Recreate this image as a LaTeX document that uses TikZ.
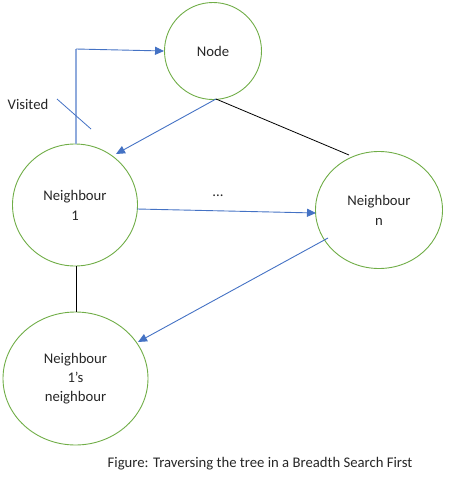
\documentclass[tikz,border=0pt]{standalone}
\usepackage{fontspec}
\setmainfont{Carlito}
\usetikzlibrary{arrows.meta,shapes.geometric}
\definecolor{cgreen}{HTML}{70AD47}
\definecolor{cblue}{HTML}{4472C4}
\definecolor{clblue}{HTML}{8FAADC}
\begin{document}
\begin{tikzpicture}[x=1pt,y=-1pt,
  circ/.style={draw=cgreen,line width=0.9pt,ellipse,inner sep=0pt,align=center,
    font=\fontsize{14.7}{20}\selectfont,text=black!85},
  barrow/.style={draw=cblue,line width=0.9pt,-{Triangle[length=9pt,width=8pt]}},
  bline/.style={draw=black,line width=0.8pt},
  lab/.style={font=\fontsize{14.7}{20}\selectfont,text=black!85,inner sep=0pt}]
\useasboundingbox (0,0) rectangle (453,482);
\node[circ,minimum width=97pt,minimum height=97pt] (node) at (213,51) {Node};
\node[circ,minimum width=125pt,minimum height=122pt] (n1) at (75,205) {Neighbour\\1};
\node[circ,minimum width=127pt,minimum height=117pt] (nn) at (379,210) {Neighbour\\n};
\node[circ,minimum width=145pt,minimum height=133pt,font=\fontsize{14.7}{19}\selectfont] (n1n) at (75.5,378.5) {Neighbour\\1’s\\neighbour};
\node[lab] (visited) at (28,104) {Visited};
\node[lab] (dots) at (218,196) {...};
\node[lab] (cap) at (260,464) {Figure: Traversing the tree in a Breadth Search First};
\coordinate (v1) at (76,144);
\coordinate (v2) at (76,49);
\coordinate (s1) at (57,99);
\coordinate (s2) at (91,129);
\coordinate (a1) at (216,99);
\coordinate (a2) at (116,154);
\coordinate (b2) at (349,155);
\coordinate (c1) at (137,209);
\coordinate (c2) at (316,213);
\coordinate (d1) at (328,238);
\coordinate (d2) at (138,342);
\coordinate (e1) at (76,266);
\coordinate (e2) at (76,312);
\draw[draw=clblue,line width=1.6pt] (v1) -- (v2);
\draw[barrow] (v2) -- (node.west);
\draw[draw=cblue,line width=0.8pt] (s1) -- (s2);
\draw[barrow] (a1) -- (a2);
\draw[bline] (a1) -- (b2);
\draw[barrow] (c1) -- (c2);
\draw[barrow] (d1) -- (d2);
\draw[bline] (e1) -- (e2);
\end{tikzpicture}
\end{document}
